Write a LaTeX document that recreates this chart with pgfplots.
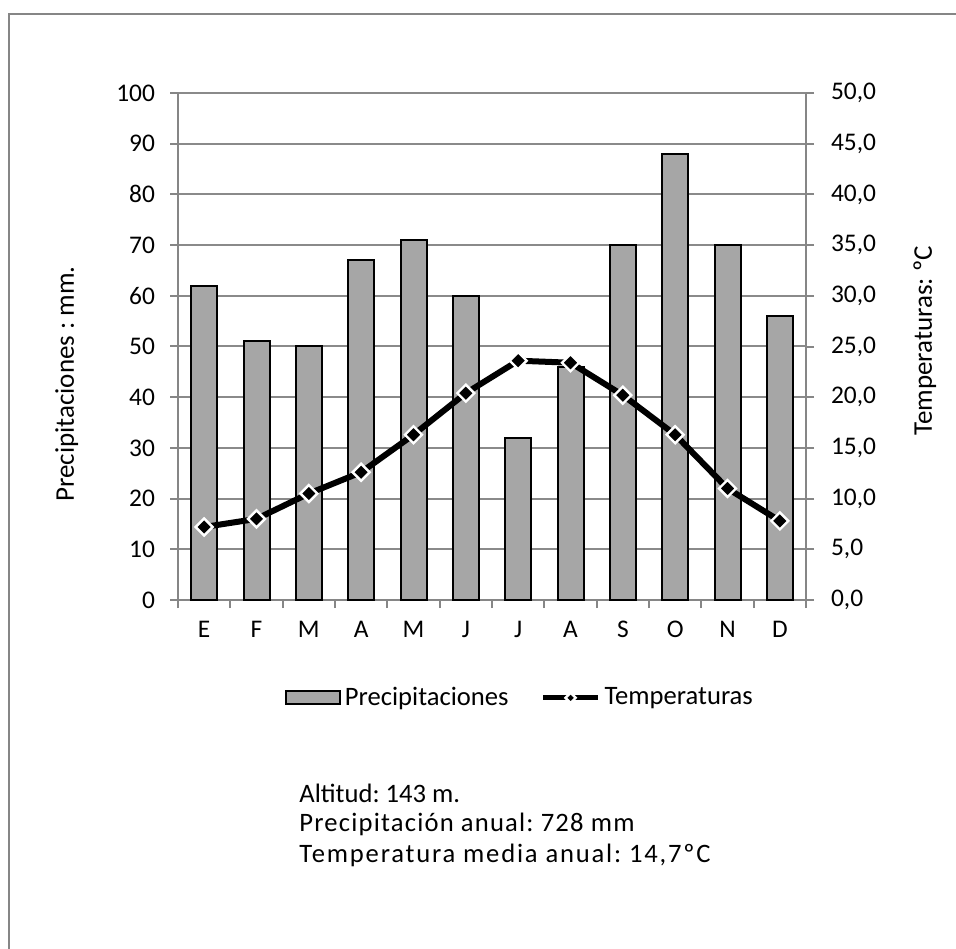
\documentclass[border=0pt]{standalone}
\usepackage{fontspec}
\setmainfont{Carlito}
\usepackage{pgfplots}
\usepackage{pgfplotstable}
\pgfplotsset{compat=1.18}
\definecolor{barfill}{HTML}{A6A6A6}
\definecolor{gridgray}{HTML}{8A8A8A}
\definecolor{axisgray}{HTML}{868686}
\frenchspacing

% meses, precipitaciones (mm) y temperaturas (ºC)
\pgfplotstableread{
idx prec temp
0  62 7.2
1  51 8.0
2  50 10.5
3  67 12.6
4  71 16.3
5  60 20.4
6  32 23.6
7  46 23.4
8  70 20.2
9  88 16.3
10 70 11.0
11 56 7.8
}\clima

\pgfplotsset{
  climabase/.style={
    at={(89pt,174pt)}, anchor=south west,
    width=314pt, height=253.5pt, scale only axis,
    xmin=-0.5, xmax=11.5,
    tick align=outside,
    major tick length=4pt,
    minor tick length=4pt,
    axis line style={axisgray, line width=1pt},
    every tick/.style={axisgray, line width=1pt},
    tick label style={font=\fontsize{12.7}{15}\selectfont, black},
    label style={font=\fontsize{13.5}{16}\selectfont, black},
    /pgf/number format/assume math mode=true,
    clip=false,
  },
  barlegend/.style={legend image code/.code={%
    \draw[fill=barfill, draw=black, line width=1pt] (0pt,-3.25pt) rectangle (27pt,3.25pt);}},
  linelegend/.style={legend image code/.code={%
    \draw[mark repeat=2, mark phase=2, ##1, mark size=1.8pt, line width=2.5pt]
      plot coordinates {(0pt,0pt) (13.75pt,0pt) (27.5pt,0pt)};}},
}

\begin{document}
\begin{tikzpicture}[x=0.5pt,y=0.5pt]
\useasboundingbox (0,0) rectangle (956,948);
\draw[axisgray, line width=1pt] (9,-10) -- (9,934) -- (970,934);

\begin{axis}[
  climabase,
  ymin=0, ymax=100,
  axis y line*=left, axis x line*=bottom,
  ytick={0,10,...,100},
  ymajorgrids,
  grid style={gridgray, line width=1pt},
  xtick={0,...,11},
  xticklabels={E,F,M,A,M,J,J,A,S,O,N,D},
  major x tick style={draw=none},
  minor xtick={-0.5,0.5,...,11.5},
  xticklabel style={yshift=-3pt},
  yticklabel style={xshift=-4pt},
  ylabel={Precipitaciones : mm.},
  ylabel style={at={(axis description cs:-0.177,0.426)}, anchor=center},
]
\addplot[ybar, bar width=13pt, fill=barfill, draw=black, line width=1pt]
  table[x=idx, y=prec] {\clima};
\end{axis}

\begin{axis}[
  climabase,
  ymin=0, ymax=50,
  axis y line*=right, axis x line=none,
  ytick={0,5,...,50},
  yticklabel style={xshift=5pt, /pgf/number format/.cd, fixed, fixed zerofill, precision=1, use comma},
  ylabel={Temperaturas: ºC},
  ylabel style={at={(axis description cs:1.189,0.511)}, anchor=center},
  legend style={at={(0.546,-0.193)}, anchor=center, draw=none,
    font=\fontsize{13.3}{16}\selectfont, legend columns=2,
    /tikz/every even column/.append style={column sep=14pt}},
]
\addlegendimage{barlegend}
\addlegendentry{Precipitaciones}
\addplot[black, line width=3pt, mark=square*, mark size=3pt,
  mark options={fill=black, draw=white, line width=1.2pt, rotate=45}, linelegend]
  table[x=idx, y=temp] {\clima};
\addlegendentry{Temperaturas}
\end{axis}

\node[anchor=west, inner sep=0pt, font=\fontsize{13.3}{16}\selectfont] at (299,155) {Altitud: 143 m.};
\node[anchor=west, inner sep=0pt, font=\fontsize{13.3}{16}\selectfont\addfontfeature{LetterSpace=4.5}] at (299,124) {Precipitación anual: 728 mm};
\node[anchor=west, inner sep=0pt, font=\fontsize{13.3}{16}\selectfont\addfontfeature{LetterSpace=6.8}] at (299,93) {Temperatura media anual: 14,7ºC};
\end{tikzpicture}
\end{document}
